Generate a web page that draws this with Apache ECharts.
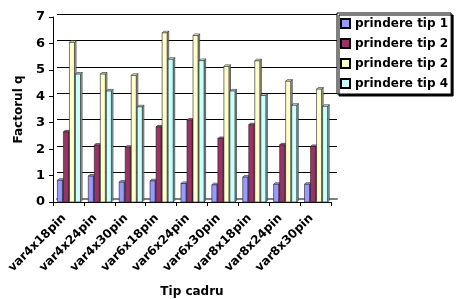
<!DOCTYPE html>
<html>
<head>
<meta charset="utf-8">
<script src="https://cdn.jsdelivr.net/npm/echarts@6/dist/echarts.min.js"></script>
<style>html,body{margin:0;padding:0;background:#fff}#c{width:457px;height:299px}</style>
</head>
<body>
<div id="c"></div>
<script>
const categories = ['var4x18pin','var4x24pin','var4x30pin','var6x18pin','var6x24pin','var6x30pin','var8x18pin','var8x24pin','var8x30pin'];
const seriesLabels = ['prindere tip 1','prindere tip 2','prindere tip 2','prindere tip 4'];
const tip1 = [0.82, 0.98, 0.75, 0.80, 0.70, 0.65, 0.94, 0.67, 0.67];
const tip2 = [2.65, 2.15, 2.07, 2.84, 3.10, 2.40, 2.92, 2.16, 2.10];
const tip3 = [6.04, 4.84, 4.79, 6.40, 6.30, 5.13, 5.34, 4.57, 4.27];
const tip4 = [4.84, 4.20, 3.60, 5.40, 5.35, 4.20, 4.03, 3.66, 3.62];
const yMin = 0, yMax = 7, yStep = 1;

const allValues = [tip1, tip2, tip3, tip4];
const colors = ['#9999FF', '#993366', '#FFFFCC', '#CCFFFF'];
const sideColors = ['#6666B0', '#6B2347', '#B3B38F', '#8FB3B3'];
const topColors = ['#B8B8FF', '#B8708F', '#FFFFE6', '#E6FFFF'];
const FONT = 'DejaVu Sans';

function makeRender(k) {
  return function (params, api) {
    const cat = api.value(0), v = api.value(1);
    const base = api.coord([cat, 0]);
    const top = api.coord([cat, v]);
    const catW = api.size([1, 0])[0];
    const groupW = catW * 0.78;
    const barW = groupW / 4;
    const d = 1.6;
    const x0 = base[0] - groupW / 2 + k * barW + 1;
    const fw = barW - 1;
    const yb = base[1], yt = top[1];
    const stroke = { stroke: '#222', lineWidth: 0.6 };
    return {
      type: 'group',
      children: [
        { type: 'polygon', shape: { points: [[x0 + fw, yt], [x0 + fw + d, yt - d], [x0 + fw + d, yb - d], [x0 + fw, yb]] },
          style: Object.assign({ fill: sideColors[k] }, stroke) },
        { type: 'polygon', shape: { points: [[x0, yt], [x0 + d, yt - d], [x0 + fw + d, yt - d], [x0 + fw, yt]] },
          style: Object.assign({ fill: topColors[k] }, stroke) },
        { type: 'rect', shape: { x: x0, y: yt, width: fw, height: yb - yt },
          style: Object.assign({ fill: colors[k] }, stroke) }
      ]
    };
  };
}

const series = allValues.map((vals, k) => ({
  name: 's' + k,
  type: 'custom',
  xAxisIndex: 0,
  yAxisIndex: 0,
  renderItem: makeRender(k),
  itemStyle: { color: colors[k], borderColor: '#000', borderWidth: 1 },
  encode: { x: 0, y: 1 },
  data: vals.map((v, i) => [i, v]),
  z: 5
}));

const chart = echarts.init(document.getElementById('c'), null, { renderer: 'canvas' });
chart.setOption({
  animation: false,
  backgroundColor: '#fff',
  grid: [
    { left: 53, right: 126, top: 17, bottom: 97, containLabel: false, outerBoundsMode: 'none' },
    { left: 57, right: 120, top: 14, bottom: 100, containLabel: false, outerBoundsMode: 'none' }
  ],
  legend: {
    data: series.map(s => s.name),
    formatter: function (name) { return seriesLabels[+name.slice(1)]; },
    orient: 'vertical',
    left: 337,
    top: 13,
    padding: [4, 3, 4, 3],
    itemWidth: 9,
    itemHeight: 9,
    itemGap: 7,
    icon: 'rect',
    backgroundColor: '#fff',
    borderColor: '#000',
    borderWidth: 1,
    shadowColor: '#000',
    shadowOffsetX: 2,
    shadowOffsetY: 2,
    shadowBlur: 0,
    textStyle: { fontFamily: FONT, fontWeight: 'bold', fontSize: 12, color: '#000', lineHeight: 13 }
  },
  xAxis: [
    {
      type: 'category', gridIndex: 0, data: categories,
      name: 'Tip cadru', nameLocation: 'middle', nameGap: 84,
      nameTextStyle: { fontFamily: FONT, fontWeight: 'bold', fontSize: 12, color: '#000' },
      axisLine: { lineStyle: { color: '#000', width: 1 } },
      axisTick: { show: true, length: 4, lineStyle: { color: '#000' } },
      axisLabel: { rotate: 45, margin: 10, padding: [0, 6, 0, 0], fontFamily: FONT, fontWeight: 'bold', fontSize: 12, color: '#000', interval: 0 },
      splitLine: { show: false }
    },
    {
      type: 'category', gridIndex: 1, data: categories,
      axisLine: { show: true, lineStyle: { color: '#808080', width: 2 } }, axisTick: { show: false }, axisLabel: { show: false }, splitLine: { show: false }
    }
  ],
  yAxis: [
    {
      type: 'value', gridIndex: 0, min: yMin, max: yMax, interval: yStep,
      name: 'Factorul q', nameLocation: 'middle', nameGap: 26, nameRotate: 90,
      nameTextStyle: { fontFamily: FONT, fontWeight: 'bold', fontSize: 12, color: '#000' },
      axisLine: { show: true, lineStyle: { color: '#000', width: 1 } },
      axisTick: { show: true, length: 4, lineStyle: { color: '#000' } },
      axisLabel: { margin: 8, fontFamily: FONT, fontWeight: 'bold', fontSize: 13, color: '#000' },
      splitLine: { show: false }
    },
    {
      type: 'value', gridIndex: 1, min: yMin, max: yMax, interval: yStep,
      axisLine: { show: false }, axisTick: { show: false }, axisLabel: { show: false },
      splitLine: { show: true, lineStyle: { color: '#000', width: 1 } }
    }
  ],
  series: series
});
</script>
</body>
</html>
